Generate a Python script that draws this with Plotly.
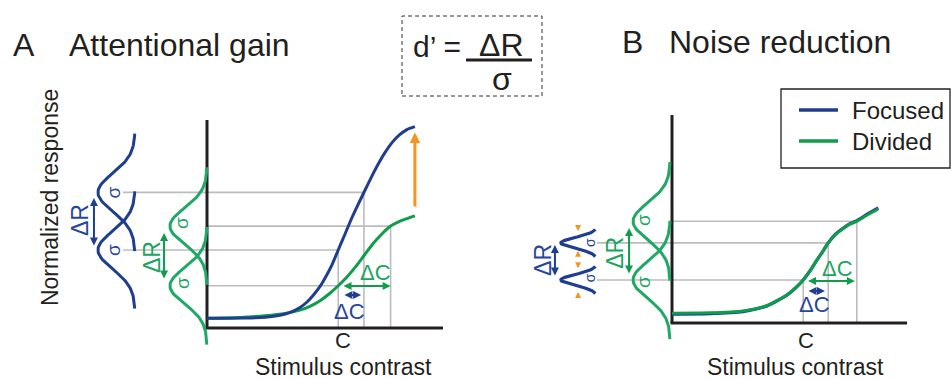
import numpy as np
import plotly.graph_objects as go

FONT = "Liberation Sans, Arial, sans-serif"
BLUE = "#1f3e8f"
GREEN = "#0f9d4c"
GREEN_G = "#1fa866"
BLUE_T = "#27479c"
GREEN_T = "#1ba561"
ORANGE = "#f7941d"
GRAY = "#bcbcbc"
INK = "#231f20"

# ---------------- data ----------------
# Panel A: attentional gain
contrast_a_focused = [0.0, 0.161, 0.246, 0.309, 0.352, 0.394, 0.424, 0.453, 0.479, 0.504, 0.530,
                      0.556, 0.585, 0.614, 0.640, 0.665, 0.695, 0.725, 0.754, 0.784, 0.814, 0.847, 0.881]
response_a_focused = [0.047, 0.048, 0.052, 0.061, 0.075, 0.099, 0.125, 0.161, 0.200, 0.248, 0.305,
                      0.375, 0.452, 0.530, 0.593, 0.652, 0.722, 0.787, 0.843, 0.891, 0.927, 0.954, 0.968]
contrast_a_divided = [0.0, 0.140, 0.246, 0.331, 0.394, 0.436, 0.479, 0.521, 0.556, 0.593, 0.630,
                      0.667, 0.704, 0.741, 0.778, 0.805, 0.835, 0.881]
response_a_divided = [0.047, 0.051, 0.059, 0.070, 0.086, 0.104, 0.131, 0.167, 0.203, 0.245, 0.295,
                      0.351, 0.406, 0.452, 0.490, 0.507, 0.521, 0.539]

# Panel B: noise reduction
contrast_b = [0.0, 0.161, 0.301, 0.403, 0.487, 0.521, 0.556, 0.585, 0.614, 0.640, 0.662,
              0.695, 0.729, 0.754, 0.783, 0.826, 0.874]
response_b_focused = [0.043, 0.045, 0.055, 0.082, 0.134, 0.166, 0.207, 0.251, 0.302, 0.346, 0.385,
                      0.429, 0.459, 0.478, 0.492, 0.522, 0.553]
response_b_divided = [0.047, 0.049, 0.058, 0.084, 0.135, 0.166, 0.207, 0.251, 0.302, 0.346, 0.385,
                      0.428, 0.457, 0.475, 0.489, 0.518, 0.548]

# reference contrasts: C, C + dC (focused), C + dC (divided)
ref_contrast_a = [0.556, 0.665, 0.778]
ref_contrast_b = [0.556, 0.662, 0.783]
# responses at C and at C + dC
a_focused_levels = [0.375, 0.652]
a_divided_levels = [0.203, 0.490]
b_focused_levels = [0.207, 0.385]
b_divided_levels = [0.207, 0.489]

# response noise (standard deviation, response units)
sigma_a_focused = 0.091
sigma_a_divided = 0.087
sigma_b_focused = 0.026
sigma_b_divided = 0.089

legend_names = ["Focused", "Divided"]


def gauss(mean, sigma, base, depth, nsig):
    y = np.linspace(mean - nsig * sigma, mean + nsig * sigma, 90)
    x = base - depth * np.exp(-0.5 * ((y - mean) / sigma) ** 2)
    return x, y


fig = go.Figure()


def line(xs, ys, color, width, xa="x", ya="y", shape="linear"):
    fig.add_trace(go.Scatter(x=xs, y=ys, mode="lines", xaxis=xa, yaxis=ya,
                             line=dict(color=color, width=width, shape=shape, smoothing=0.6),
                             showlegend=False, hoverinfo="skip"))


def sep(segs):
    xs, ys = [], []
    for (x0, y0, x1, y1) in segs:
        xs += [x0, x1, None]
        ys += [y0, y1, None]
    return xs, ys


# ---------------- Panel A ----------------
C, Cf, Cd = ref_contrast_a
segs = [
    (-0.356, a_focused_levels[0], C, a_focused_levels[0]),
    (-0.356, a_focused_levels[1], Cf, a_focused_levels[1]),
    (-0.005, a_divided_levels[0], C, a_divided_levels[0]),
    (0.0, a_divided_levels[1], Cd, a_divided_levels[1]),
    (C, 0, C, a_focused_levels[0]),
    (Cf, 0, Cf, a_focused_levels[1]),
    (Cd, 0, Cd, a_divided_levels[1]),
]
gx, gy = sep(segs)
line(gx, gy, GRAY, 1.6)
ax_x, ax_y = sep([(0, 0, 0, 1.0), (-0.006, 0, 1.0, 0)])
line(ax_x, ax_y, INK, 3)
line(contrast_a_divided, response_a_divided, GREEN, 3, shape="spline")
line(contrast_a_focused, response_a_focused, BLUE, 3, shape="spline")
for m in a_focused_levels:
    x, y = gauss(m, sigma_a_focused, -0.305, 0.157, 3.1)
    line(x, y, BLUE, 3)
for m in a_divided_levels:
    x, y = gauss(m, sigma_a_divided, 0.0, 0.157, 3.25)
    line(x, y, GREEN_G, 3)

# ---------------- Panel B ----------------
C, Cf, Cd = ref_contrast_b
segs = [
    (-0.318, b_focused_levels[0], C, b_focused_levels[0]),
    (-0.318, b_focused_levels[1], Cf, b_focused_levels[1]),
    (0.0, b_divided_levels[1], Cd, b_divided_levels[1]),
    (C, 0, C, b_focused_levels[0]),
    (Cf, 0, Cf, b_focused_levels[1]),
    (Cd, 0, Cd, b_divided_levels[1]),
]
gx, gy = sep(segs)
line(gx, gy, GRAY, 1.6, "x2", "y2")
ax_x, ax_y = sep([(0, 0, 0, 1.0), (-0.006, 0, 0.996, 0)])
line(ax_x, ax_y, INK, 3, "x2", "y2")
line(contrast_b, response_b_focused, BLUE, 3.2, "x2", "y2", shape="spline")
line(contrast_b, response_b_divided, GREEN, 3, "x2", "y2", shape="spline")
for m in b_divided_levels:
    x, y = gauss(m, sigma_b_divided, -0.008, 0.157, 3.2)
    line(x, y, GREEN_G, 3, "x2", "y2")
for m in b_focused_levels:
    x, y = gauss(m, sigma_b_focused, -0.318, 0.153, 2.5)
    line(x, y, BLUE, 3.2, "x2", "y2")

# ---------------- annotations ----------------
ann = []


def label(text, x, y, color, size, angle=0, xref="x", yref="y", xanchor="center"):
    ann.append(dict(text=text, x=x, y=y, xref=xref, yref=yref, showarrow=False,
                    textangle=angle, xanchor=xanchor, yanchor="middle", borderpad=0,
                    font=dict(color=color, size=size, family=FONT)))


def arrow(x0, y0, x1, y1, color, width, both=False, size=1.0, xref="x", yref="y"):
    ann.append(dict(x=x1, y=y1, ax=x0, ay=y0, xref=xref, yref=yref, axref=xref, ayref=yref,
                    text="", showarrow=True, arrowhead=2, arrowsize=size, arrowwidth=width,
                    arrowcolor=color, arrowside="end+start" if both else "end",
                    startarrowhead=2, startarrowsize=size, standoff=0, startstandoff=0))


# panel A labels
label("σ", -0.398, a_focused_levels[1], BLUE_T, 19, -90)
label("σ", -0.398, a_focused_levels[0], BLUE_T, 19, -90)
label("ΔR", -0.538, 0.519, BLUE_T, 23, -90)
arrow(-0.479, 0.389, -0.479, 0.625, BLUE, 2, True, 0.8)
label("σ", -0.106, 0.505, GREEN_T, 19, -90)
label("σ", -0.106, 0.216, GREEN_T, 19, -90)
label("ΔR", -0.233, 0.341, GREEN_T, 23, -90)
arrow(-0.182, 0.231, -0.182, 0.457, GREEN, 2, True, 0.8)
label("ΔC", 0.712, 0.269, GREEN_T, 22)
arrow(0.572, 0.202, 0.778, 0.202, GREEN, 2, True, 0.8)
label("ΔC", 0.602, 0.077, BLUE_T, 22)
arrow(0.576, 0.159, 0.653, 0.159, BLUE, 2, True, 0.8)
label("C", 0.576, -0.058, INK, 22)
label("Stimulus contrast", 0.58, -0.188, INK, 23)
label("Normalized response", -0.665, 0.625, INK, 23, -90)
arrow(0.881, 0.577, 0.881, 0.94, ORANGE, 3, False, 0.7)

# panel B labels
xb, yb = "x2", "y2"
label("σ", -0.347, 0.385, BLUE_T, 14, -90, xb, yb)
label("σ", -0.347, 0.216, BLUE_T, 14, -90, xb, yb)
label("ΔR", -0.547, 0.303, BLUE_T, 23, -90, xb, yb)
arrow(-0.496, 0.221, -0.496, 0.375, BLUE, 2, True, 0.8, xb, yb)
label("σ", -0.123, 0.495, GREEN_T, 19, -90, xb, yb)
label("σ", -0.123, 0.197, GREEN_T, 19, -90, xb, yb)
label("ΔR", -0.242, 0.337, GREEN_T, 23, -90, xb, yb)
arrow(-0.182, 0.231, -0.182, 0.457, GREEN, 2, True, 0.8, xb, yb)
for (y0, y1) in [(0.475, 0.442), (0.318, 0.347), (0.292, 0.263), (0.116, 0.149)]:
    arrow(-0.398, y0, -0.398, y1, ORANGE, 2, False, 0.6, xb, yb)
label("ΔC", 0.703, 0.264, GREEN_T, 22, 0, xb, yb)
arrow(0.57, 0.202, 0.775, 0.202, GREEN, 2, True, 0.8, xb, yb)
label("ΔC", 0.602, 0.087, BLUE_T, 22, 0, xb, yb)
arrow(0.572, 0.154, 0.648, 0.154, BLUE, 2, True, 0.8, xb, yb)
label("C", 0.568, -0.082, INK, 22, 0, xb, yb)
label("Stimulus contrast", 0.523, -0.212, INK, 23, 0, xb, yb)

# titles, d' box and legend (paper coordinates)
W, H = 951.0, 379.0


def px(x, y):
    return x / W, 1 - y / H


for text, x, y, anchor in [("A", 24, 45, "center"), ("Attentional gain", 68, 45, "left"),
                           ("B", 632, 42, "center"), ("Noise reduction", 668, 42, "left")]:
    xx, yy = px(x, y)
    label(text, xx, yy, INK, 32, 0, "paper", "paper", anchor)

xx, yy = px(437, 47)
label("d’ =", xx, yy, INK, 30, 0, "paper", "paper")
xx, yy = px(501, 45)
label("ΔR", xx, yy, INK, 32, 0, "paper", "paper")
xx, yy = px(502, 79)
label("σ", xx, yy, INK, 32, 0, "paper", "paper")

shapes = [
    dict(type="rect", xref="paper", yref="paper", x0=402 / W, x1=542 / W, y0=1 - 96 / H, y1=1 - 16 / H,
         line=dict(color="#333333", width=1, dash="4px,3px"), fillcolor="rgba(0,0,0,0)"),
    dict(type="line", xref="paper", yref="paper", x0=466 / W, x1=532 / W, y0=1 - 60 / H, y1=1 - 60 / H,
         line=dict(color=INK, width=3)),
    # legend frame
    dict(type="rect", xref="paper", yref="paper", x0=781 / W, x1=950 / W, y0=1 - 168 / H, y1=1 - 89 / H,
         line=dict(color="#222222", width=1.3), fillcolor="white", layer="below"),
]
for name, color, ypx in zip(legend_names, [BLUE, GREEN], [110, 141]):
    shapes.append(dict(type="line", xref="paper", yref="paper", x0=799 / W, x1=838 / W,
                       y0=1 - ypx / H, y1=1 - ypx / H, line=dict(color=color, width=3.5)))
    xx, yy = px(851, ypx)
    label(name, xx, yy, INK, 24, 0, "paper", "paper", "left")

hidden = dict(visible=False, showgrid=False, zeroline=False, fixedrange=True)
fig.update_layout(
    width=951, height=379,
    margin=dict(l=0, r=0, t=0, b=0),
    paper_bgcolor="white", plot_bgcolor="rgba(0,0,0,0)",
    font=dict(family=FONT, color=INK),
    xaxis=dict(domain=[0, 0.5], range=[-207 / 236, (475.5 - 207) / 236], **hidden),
    yaxis=dict(domain=[0, 1], range=[-(379 - 328) / 208, 328 / 208], **hidden),
    xaxis2=dict(domain=[0.5, 1], range=[-(672 - 475.5) / 236, (951 - 672) / 236], **hidden),
    yaxis2=dict(domain=[0, 1], range=[-(379 - 323) / 208, 323 / 208], anchor="x2", **hidden),
    annotations=ann,
    shapes=shapes,
    showlegend=False,
)
fig.write_html("out.html")
